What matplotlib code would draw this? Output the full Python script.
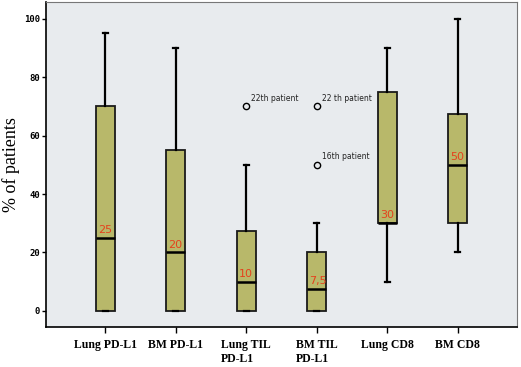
import matplotlib
matplotlib.use('Agg')
import matplotlib.pyplot as plt

# values
categories = ['Lung PD-L1', 'BM PD-L1', 'Lung TIL\nPD-L1', 'BM TIL\nPD-L1', 'Lung CD8', 'BM CD8']
whislo = [0, 0, 0, 0, 10, 20]
q1 = [0, 0, 0, 0, 30, 30]
med = [25, 20, 10, 7.5, 30, 50]
q3 = [70, 55, 27.5, 20, 75, 67.5]
whishi = [95, 90, 50, 30, 90, 100]
outliers = [[], [], [70], [70, 50], [], []]
median_labels = ['25', '20', '10', '7,5', '30', '50']
outlier_notes = [(3, 70, '22th patient'), (4, 70, '22 th patient'), (4, 50, '16th patient')]

stats = []
for i, name in enumerate(categories):
    stats.append(dict(label=name, whislo=whislo[i], q1=q1[i], med=med[i],
                      q3=q3[i], whishi=whishi[i], fliers=outliers[i]))

fig = plt.figure(figsize=(5.21, 3.67), dpi=100)
ax = fig.add_axes([0.088, 0.109, 0.904, 0.886])
ax.set_facecolor('#e8ebee')

pos = list(range(1, len(categories) + 1))
bp = ax.bxp(stats, positions=pos, widths=0.27, patch_artist=True, capwidths=0.07,
            boxprops=dict(facecolor='#b8b86a', edgecolor='#1a1a1a', linewidth=1.3),
            medianprops=dict(color='black', linewidth=1.8),
            whiskerprops=dict(color='black', linewidth=1.6),
            capprops=dict(color='black', linewidth=1.6),
            flierprops=dict(marker='o', markersize=4.5, markerfacecolor='none',
                            markeredgecolor='black', markeredgewidth=1.0))

for p, m, lab in zip(pos, med, median_labels):
    ax.text(p - 0.1, m + 1.0, lab, color='#e5411c', fontsize=8,
            ha='left', va='bottom', family='DejaVu Sans')

for p, v, note in outlier_notes:
    ax.text(p + 0.07, v + 1.2, note, fontsize=5.5, ha='left', va='bottom',
            color='#222222', family='DejaVu Sans')

ax.set_xlim(0.16, 6.84)
ax.set_ylim(-5.5, 105.8)
ax.set_yticks([0, 20, 40, 60, 80, 100])
ax.set_yticklabels(['0', '20', '40', '60', '80', '100'], fontsize=6.5,
                   family='DejaVu Sans Mono', fontweight='bold')
ax.set_xticks(pos)
ax.set_xticklabels(categories, fontsize=8.5, family='Liberation Serif',
                   fontweight='bold', multialignment='left')
ax.tick_params(axis='y', length=3, width=1, pad=1)
ax.tick_params(axis='x', length=4, width=1, pad=5)
ax.set_ylabel('% of patients', fontsize=13, family='Liberation Serif')
ax.yaxis.set_label_coords(-0.054, 0.5)

for side in ['left', 'bottom']:
    ax.spines[side].set_linewidth(1.2)
for side in ['top', 'right']:
    ax.spines[side].set_color('#777777')
    ax.spines[side].set_linewidth(0.8)

fig.savefig('out.png', dpi=100, facecolor='white')
